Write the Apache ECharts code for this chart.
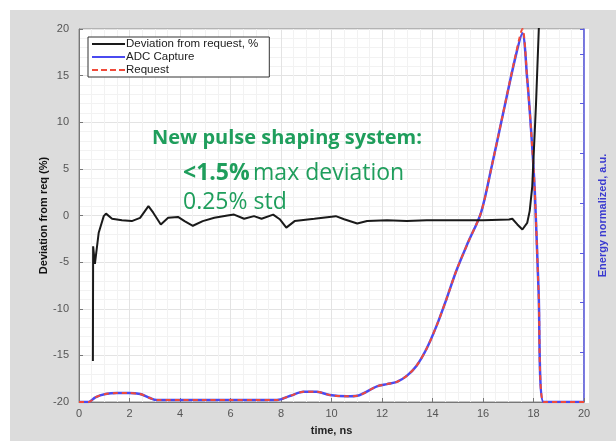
<!DOCTYPE html>
<html>
<head>
<meta charset="utf-8">
<script src="https://cdn.jsdelivr.net/npm/echarts@6/dist/echarts.min.js"></script>
<style>
html,body{margin:0;padding:0;background:#ffffff;}
#chart{width:616px;height:441px;}
</style>
</head>
<body>
<div id="chart"></div>
<script>
// Deviation from request (%), left axis
var devX = [0.55, 0.56, 0.63, 0.78, 0.98, 1.07, 1.31, 1.70, 2.09, 2.42, 2.75, 2.94, 3.24, 3.53, 3.92, 4.18, 4.51, 4.9, 5.36, 5.88, 6.14, 6.54, 6.93, 7.23, 7.69, 7.95, 8.21, 8.54, 9.32, 10.17, 10.5, 11.02, 11.41, 12.2, 12.98, 13.77, 15, 16, 17.03, 17.16, 17.36, 17.56, 17.75, 17.85, 17.95, 18.1, 18.21, 18.3];
var devY = [-15.6, -3.3, -5.2, -1.85, -0.07, 0.2, -0.35, -0.5, -0.6, -0.25, 1.0, 0.3, -0.96, -0.25, -0.15, -0.6, -1.1, -0.6, -0.25, 0, 0.1, -0.35, -0.07, -0.35, 0.1, -0.4, -1.3, -0.6, -0.35, -0.07, -0.4, -0.85, -0.6, -0.5, -0.6, -0.5, -0.5, -0.5, -0.43, -0.35, -0.96, -1.5, -0.8, 0.5, 3.1, 12, 20, 28];
// Energy normalized (right axis)
var energyX = [0, 0.39, 0.65, 1.05, 1.5, 1.96, 2.42, 2.81, 3.07, 4, 5, 6, 7, 7.84, 8.37, 8.89, 9.41, 9.93, 10.63, 11.02, 11.8, 12.2, 12.59, 12.98, 13.37, 13.76, 14.16, 14.55, 14.94, 15.4, 15.92, 16.35, 16.77, 17.29, 17.56, 17.75, 17.9, 18.05, 18.2, 18.4, 19, 20];
var adcY = [0, 0, 0.019, 0.032, 0.036, 0.036, 0.032, 0.016, 0.008, 0.008, 0.008, 0.008, 0.008, 0.008, 0.025, 0.041, 0.041, 0.028, 0.023, 0.025, 0.063, 0.072, 0.081, 0.105, 0.146, 0.213, 0.306, 0.413, 0.527, 0.64, 0.761, 0.95, 1.148, 1.389, 1.483, 1.3, 1.1, 0.85, 0.45, 0, 0, 0];
var reqY = [0, 0, 0.019, 0.032, 0.036, 0.036, 0.032, 0.016, 0.008, 0.008, 0.008, 0.008, 0.008, 0.008, 0.025, 0.041, 0.041, 0.028, 0.023, 0.025, 0.063, 0.072, 0.081, 0.105, 0.146, 0.213, 0.306, 0.413, 0.527, 0.64, 0.761, 0.95, 1.148, 1.395, 1.5, 1.3, 1.1, 0.85, 0.45, 0, 0, 0];
var leftTicks = [-20, -15, -10, -5, 0, 5, 10, 15, 20];
var xTicks = [0, 2, 4, 6, 8, 10, 12, 14, 16, 18, 20];
var legendNames = ['Deviation from request, %', 'ADC Capture', 'Request'];

function pairs(xs, ys) { return xs.map(function (x, i) { return [x, ys[i]]; }); }

var chart = echarts.init(document.getElementById('chart'), null, {renderer: 'canvas'});
var green = '#1f9e5c';
var solidIcon = 'path://M0,5 L33,5 L33,7 L0,7 Z';
var dashIcon = 'path://M0,5 L6,5 L6,7 L0,7 Z M9,5 L15,5 L15,7 L9,7 Z M18,5 L24,5 L24,7 L18,7 Z M27,5 L33,5 L33,7 L27,7 Z';
var option = {
  backgroundColor: '#ffffff',
  animation: false,
  graphic: [
    {type: 'rect', z: -10, silent: true, shape: {x: 10, y: 10, width: 606, height: 431}, style: {fill: '#dcdcdc'}},
    {type: 'rect', z: -9, silent: true, shape: {x: 79, y: 29, width: 510, height: 374}, style: {fill: '#ffffff'}},
    {type: 'text', z: 100, left: 152, top: 128, style: {text: 'New pulse shaping system:', fill: green, font: 'bold 20px "Open Sans", sans-serif'}},
    {type: 'text', z: 100, left: 183, top: 162, style: {
      text: '{b|<1.5%} {n|max deviation}',
      rich: {
        b: {fill: green, font: 'bold 23px "Open Sans", sans-serif', lineHeight: 26},
        n: {fill: green, font: '23px "Open Sans", sans-serif', lineHeight: 26}
      }}},
    {type: 'text', z: 100, left: 183, top: 189, style: {text: '0.25% std', fill: green, font: '23px "Open Sans", sans-serif', lineHeight: 26}}
  ],
  legend: {
    orient: 'vertical',
    left: 88, top: 37,
    data: [
      {name: legendNames[0], icon: solidIcon},
      {name: legendNames[1], icon: solidIcon},
      {name: legendNames[2], icon: dashIcon}
    ],
    backgroundColor: '#ffffff',
    borderColor: '#333333',
    borderWidth: 1,
    borderRadius: 0,
    padding: [1, 11, 1, 4],
    itemGap: 1,
    itemWidth: 33,
    itemHeight: 12,
    textStyle: {fontSize: 11.5, color: '#222', fontFamily: 'Liberation Sans, Arial', padding: [0, 0, 0, -4]}
  },
  grid: {left: 79, right: 27, top: 29, bottom: 38, containLabel: false, show: true, borderColor: '#8a8a8a', borderWidth: 1},
  xAxis: {
    type: 'value', min: 0, max: 20, interval: 2,
    name: 'time, ns', nameLocation: 'middle', nameGap: 23, nameMoveOverlap: false,
    nameTextStyle: {fontSize: 11, color: '#222', fontFamily: 'Liberation Sans, Arial', fontWeight: 'bold'},
    axisLine: {show: true, onZero: false, lineStyle: {color: '#777'}},
    axisTick: {show: true, inside: true, length: 4, lineStyle: {color: '#777'}},
    axisLabel: {fontSize: 11, color: '#555', margin: 6, fontFamily: 'Liberation Sans, Arial',
      formatter: function (v) { return xTicks.indexOf(v) >= 0 ? String(v) : ''; }},
    splitLine: {show: true, lineStyle: {color: '#e3e3e3', width: 1}},
    minorTick: {show: false, splitNumber: 4},
    minorSplitLine: {show: true, lineStyle: {color: '#f2f2f2', width: 1}}
  },
  yAxis: [
    {
      type: 'value', min: -20, max: 20, interval: 5,
      name: 'Deviation from req (%)', nameLocation: 'middle', nameGap: 30, nameRotate: 90, nameMoveOverlap: false,
      nameTextStyle: {fontSize: 11, color: '#111', fontFamily: 'Liberation Sans, Arial', fontWeight: 'bold'},
      axisLine: {show: true, lineStyle: {color: '#777'}},
      axisTick: {show: true, inside: true, length: 4, lineStyle: {color: '#777'}},
      axisLabel: {fontSize: 11, color: '#555', margin: 10, fontFamily: 'Liberation Sans, Arial',
        formatter: function (v) { return leftTicks.indexOf(v) >= 0 ? String(v) : ''; }},
      splitLine: {show: true, lineStyle: {color: '#e3e3e3', width: 1}},
      minorSplitLine: {show: true, lineStyle: {color: '#f2f2f2', width: 1}},
      minorTick: {show: false, splitNumber: 5}
    },
    {
      type: 'value', min: 0, max: 1.5, interval: 0.2, position: 'right',
      name: 'Energy normalized, a.u.', nameLocation: 'middle', nameGap: 13, nameRotate: 90, nameMoveOverlap: false,
      nameTextStyle: {fontSize: 11, color: '#3a3ad0', fontFamily: 'Liberation Sans, Arial', fontWeight: 'bold'},
      axisLine: {show: true, lineStyle: {color: '#5a5ae0', width: 1.5}},
      axisTick: {show: true, inside: true, length: 4, lineStyle: {color: '#5a5ae0'}},
      axisLabel: {show: false},
      splitLine: {show: false}
    }
  ],
  series: [
    {
      name: legendNames[0], type: 'line', yAxisIndex: 0, clip: true, symbol: 'none',
      data: pairs(devX, devY),
      lineStyle: {color: '#1a1a1a', width: 2}, itemStyle: {color: '#1a1a1a'}, z: 5
    },
    {
      name: legendNames[1], type: 'line', yAxisIndex: 1, clip: true, symbol: 'none', smooth: 0.3,
      data: pairs(energyX, adcY),
      lineStyle: {color: '#4a4af0', width: 2.5}, itemStyle: {color: '#4a4af0'}, z: 3
    },
    {
      name: legendNames[2], type: 'line', yAxisIndex: 1, clip: true, symbol: 'none', smooth: 0.3,
      data: pairs(energyX, reqY),
      lineStyle: {color: '#f04a3a', width: 2, type: [5, 4]}, itemStyle: {color: '#f04a3a'}, z: 4
    }
  ]
};
chart.setOption(option);
</script>
</body>
</html>
